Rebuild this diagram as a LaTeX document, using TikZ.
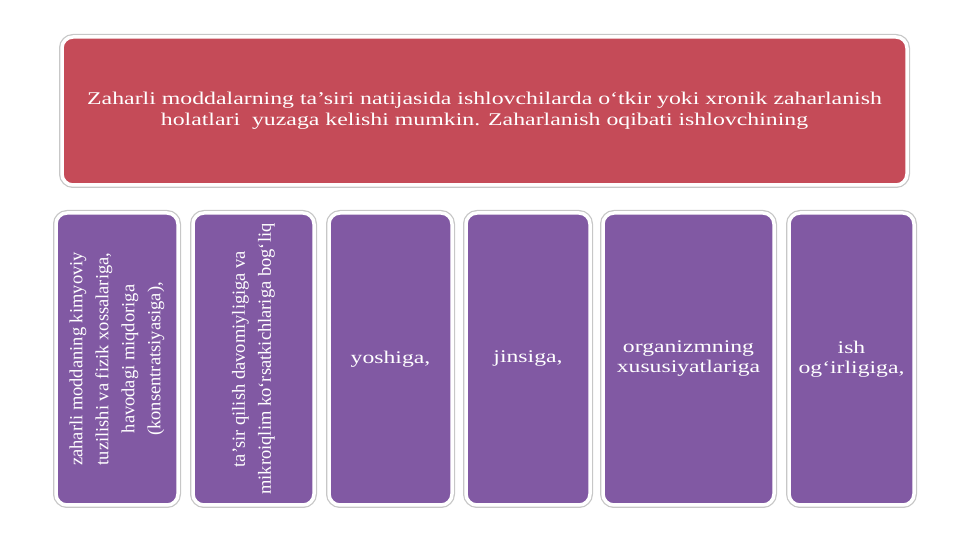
\documentclass[tikz,border=0pt]{standalone}
\usepackage{fontspec}
\setmainfont{Liberation Serif}
\newfontfamily\widefont[FakeStretch=1.33]{Liberation Serif}
\usetikzlibrary{calc}

\definecolor{causered}{RGB}{197,75,88}
\definecolor{factorpurple}{RGB}{129,89,163}

\tikzset{
  slidebox/.style={rounded corners=11pt, draw=white, line width=3.5pt,
    preaction={draw=black!22, line width=6pt}, text=white, align=center},
  causebox/.style={slidebox, fill=causered,
    font=\widefont\fontsize{17.9}{21}\selectfont},
  factorbox/.style={slidebox, fill=factorpurple, minimum height=292pt,
    font=\widefont\fontsize{17.8}{20}\selectfont},
  turnedbox/.style={slidebox, fill=factorpurple, rotate=90, minimum width=292pt,
    font=\fontsize{18.5}{26}\selectfont}
}

\begin{document}
\begin{tikzpicture}[x=1pt, y=1pt]
\useasboundingbox (0,0) rectangle (961,540);

% top box
\node [causebox, minimum width=845pt, minimum height=148pt] (cause) at (484.5, 429)
  {Zaharli moddalarning ta’siri natijasida ishlovchilarda o‘tkir yoki xronik zaharlanish\\
   holatlari\ \ yuzaga kelishi mumkin. Zaharlanish oqibati ishlovchining};

% factors
\node [turnedbox, minimum height=122pt] (chem) at (117, 181)
  {zaharli moddaning kimyoviy\\tuzilishi va fizik xossalariga,\\havodagi miqdoriga\\(konsentratsiyasiga),};
\node [turnedbox, minimum height=121pt] (time) at (253.5, 181)
  {ta’sir qilish davomiyligiga va\\mikroiqlim ko‘rsatkichlariga bog‘liq};
\node [factorbox, minimum width=123pt] (age) at (390.5, 181) {yoshiga,};
\node [factorbox, minimum width=124pt] (sex) at (528, 181) {jinsiga,};
\node [factorbox, minimum width=171pt] (body) at (688.5, 181) {organizmning\\xususiyatlariga};
\node [factorbox, minimum width=125pt] (work) at (851.5, 181) {ish\\og‘irligiga,};
\end{tikzpicture}
\end{document}
